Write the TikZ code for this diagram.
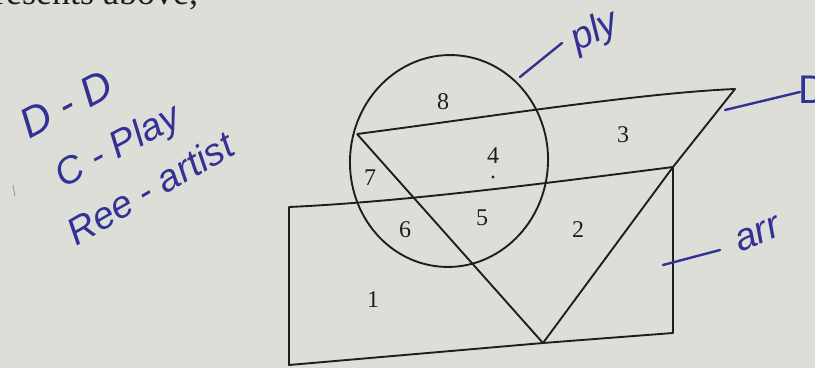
\documentclass[tikz,border=0pt]{standalone}
\usepackage{fontspec}
\setmainfont{Liberation Serif}
\newfontfamily\hand{Liberation Sans}
\definecolor{paper}{RGB}{222,222,217}
\definecolor{ink}{RGB}{30,30,30}
\definecolor{pen}{RGB}{50,50,150}
\begin{document}
\begin{tikzpicture}[x=1pt,y=1pt,
  edge/.style={draw=ink,line width=1.9pt,line join=round},
  num/.style={font=\fontsize{24}{24}\selectfont,text=ink,inner sep=0pt},
  pentext/.style={font=\hand\itshape\fontsize{38}{38}\selectfont,text=pen,inner sep=0pt},
  penline/.style={draw=pen,line width=2.4pt,line cap=round}]
\useasboundingbox (0,0) rectangle (815,368);
\clip (0,0) rectangle (815,368);
\fill[paper] (0,0) rectangle (815,368);
% page text cut at the top
\node[anchor=base west,inner sep=0pt,text=ink,font=\fontsize{36}{36}\selectfont] (top) at (-6,363) {resents above,};
% geometry
\coordinate (A) at (357,234);
\coordinate (B) at (735,279);
\coordinate (C) at (673,201);
\coordinate (R1) at (289,161);
\coordinate (R2) at (289,3);
\coordinate (V) at (543,25);
\coordinate (R3) at (673,35);
\coordinate (O) at (449,207);
\draw[edge] (A) .. controls (480,250) and (640,275) .. (B) -- (C);
\draw[edge] (C) .. controls (540,184) and (400,166) .. (R1) -- (R2) -- (V) -- (R3) -- (C);
\draw[edge] (A) -- (V) -- (C);
\draw[edge] (O) circle [x radius=99, y radius=106, rotate=-5];
% region numbers
\node[num] (n8) at (443,266) {8};
\node[num] (n4) at (493,212) {4};
\fill[ink] (493,191) circle (1.6);
\node[num] (n7) at (370,190) {7};
\node[num] (n6) at (405,138) {6};
\node[num] (n5) at (482,150) {5};
\node[num] (n1) at (373,68) {1};
\node[num] (n3) at (623,233) {3};
\node[num] (n2) at (578,138) {2};
% handwritten labels
\coordinate (p1) at (520,291);
\coordinate (p2) at (562,325);
\draw[penline] (p1) -- (p2);
\node[pentext,rotate=25] (ply) at (595,336) {ply};
\coordinate (d1) at (725,258);
\coordinate (d2) at (800,276);
\draw[penline] (d1) -- (d2);
\node[pentext,anchor=west,font=\hand\fontsize{40}{40}\selectfont] (dlab) at (798,278) {D};
\coordinate (a1) at (663,103);
\coordinate (a2) at (720,118);
\draw[penline] (a1) -- (a2);
\node[pentext,rotate=22] (arr) at (758,134) {arr};
\node[pentext,rotate=28,font=\hand\itshape\fontsize{42}{42}\selectfont] (dd) at (66,264) {D - D};
\node[pentext,rotate=28] (cp) at (119,220) {C - Play};
\node[pentext,rotate=30] (ra) at (150,180) {Ree - artist};
\draw[pen!50,line width=1pt] (13,183) -- (15,172);
\end{tikzpicture}
\end{document}
